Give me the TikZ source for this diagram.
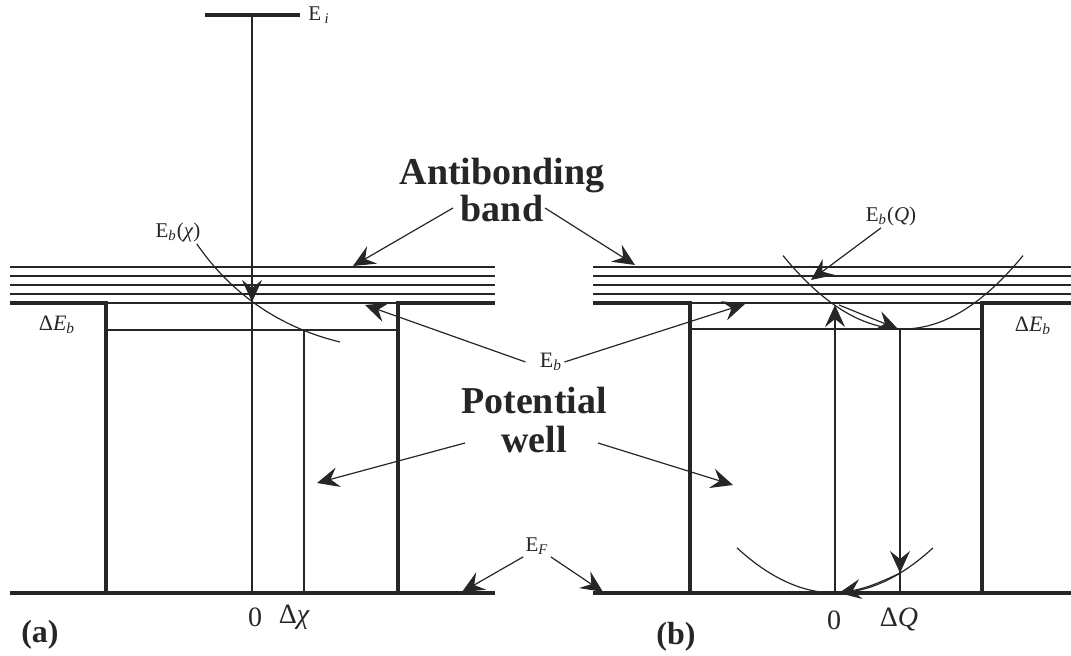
\documentclass[tikz,border=0pt]{standalone}
\usepackage{fontspec}
\setmainfont{Liberation Serif}
\usetikzlibrary{arrows.meta,positioning}
\colorlet{ink}{black!85}
\tikzset{
  lvl/.style={draw=ink,line width=0.6pt},
  wall/.style={draw=ink,line width=2pt,line join=miter},
  floor/.style={draw=ink,line width=1.6pt},
  arr/.style={draw=ink,line width=0.6pt,-{Stealth[length=11pt,width=10pt,inset=4pt]}}
}

\begin{document}
\begin{tikzpicture}[x=0.5pt,y=-0.5pt,
  big/.style={font=\fontsize{19}{17}\selectfont\bfseries,text=ink,inner sep=1pt,align=center,anchor=south},
  lab/.style={font=\fontsize{10.5}{12}\selectfont,text=ink,inner sep=1pt},
  labb/.style={font=\fontsize{11}{13}\selectfont,text=ink,inner sep=1pt},
  num/.style={font=\fontsize{14}{16}\selectfont,text=ink,inner sep=1pt},
  tag/.style={font=\fontsize{16}{18}\selectfont\bfseries,text=ink,inner sep=1pt}]
  \useasboundingbox (0,0) rectangle (1071,656);

  % band levels
  \foreach \y in {267,276,285,294,303}{
    \draw[lvl] (10,\y) -- (495,\y);
    \draw[lvl] (593,\y) -- (1071,\y);
  }

  % well (a)
  \draw[wall] (10,303) -- (106,303) -- (106,593);
  \draw[wall] (495,303) -- (398,303) -- (398,593);
  \draw[floor] (10,593) -- (495,593);
  \draw[lvl] (106,330) -- (398,330);

  % well (b)
  \draw[wall] (593,303) -- (690,303) -- (690,593);
  \draw[wall] (1071,303) -- (982,303) -- (982,593);
  \draw[floor] (593,593) -- (1071,593);
  \draw[lvl] (690,329) -- (982,329);

  % points
  \coordinate (eiM) at (252,15);
  \coordinate (aTip) at (252,302);
  \coordinate (a0) at (252,593);
  \coordinate (axTop) at (304,330);
  \coordinate (ax) at (304,593);
  \coordinate (b0) at (835,593);
  \coordinate (bTip) at (835,305);
  \coordinate (bqTop) at (900,329);
  \coordinate (bqTip) at (900,573);
  \coordinate (bq) at (900,593);

  % panel (a)
  \draw[ink,line width=2pt] (205,15) -- (300,15);
  \node[lab,anchor=west] (ei) at (306,15) {E\,\textsubscript{\textit{i}}};
  \draw[lvl] (eiM) -- (a0);
  \draw[arr] (eiM) -- (aTip);
  \draw[lvl] (axTop) -- (ax);
  \node[lab] (ebx) at (178,232) {E\textsubscript{\textit{b}}(\textit{χ})};
  \draw[lvl] ([xshift=-3pt]ebx.south east) .. controls (225,285) and (270,325) .. (340,342);
  \node[labb] (dEa) at (57,325) {Δ\textit{E}\textsubscript{\textit{b}}};
  \node[num] (za) at (255,617) {0};
  \node[num,right=6pt of za] (dchi) {Δ\textit{χ}};
  \node[tag] (la) at (40,635) {(a)};

  % panel (b)
  \draw[lvl] plot[domain=-120:120,samples=49] ({903+\x},{329-0.0051*\x*\x});
  \draw[lvl] plot[domain=-98:98,samples=41] ({835+\x},{593-0.0047*\x*\x});
  \draw[arr] (b0) -- (bTip);
  \draw[lvl] (bqTop) -- (bq);
  \draw[arr] (bqTop) -- (bqTip);
  \draw[arr] ([xshift=2pt]bTip) -- ([xshift=-1pt]bqTop);
  \draw[arr] (bqTip) to[bend left=8] ([xshift=2pt]b0);
  \node[lab] (ebq) at (891,216) {E\textsubscript{\textit{b}}(\textit{Q})};
  \draw[arr] ([xshift=-5pt]ebq.south) -- (811,280);
  \node[labb] (dEb) at (1033,326) {Δ\textit{E}\textsubscript{\textit{b}}};
  \node[num] (zb) at (834,620) {0};
  \node[num,right=17pt of zb] (dq) {Δ\textit{Q}};
  \node[tag] (lb) at (676,637) {(b)};

  % shared labels
  \node[big] (anti) at (502,224) {Antibonding\\band};
  \draw[arr] ([shift={(-24.5pt,8pt)}]anti.south) -- (353,266);
  \draw[arr] ([shift={(21.5pt,8pt)}]anti.south) -- (635,265);
  \node[labb] (eb) at (551,362) {E\textsubscript{\textit{b}}};
  \draw[arr] ([xshift=-6pt]eb.west) -- (365,305);
  \draw[arr] (eb.east) -- (745,304);
  \node[big] (pot) at (534,455) {Potential\\[2.5pt]well};
  \draw[arr] ([shift={(-34.5pt,6pt)}]pot.south) -- (317,483);
  \draw[arr] ([shift={(32pt,6pt)}]pot.south) -- (733,485);
  \node[lab] (ef) at (537,546) {E\textsubscript{\textit{F}}};
  \draw[arr] (ef.south west) -- (462,592);
  \draw[arr] (ef.south east) -- (603,592);
\end{tikzpicture}
\end{document}
